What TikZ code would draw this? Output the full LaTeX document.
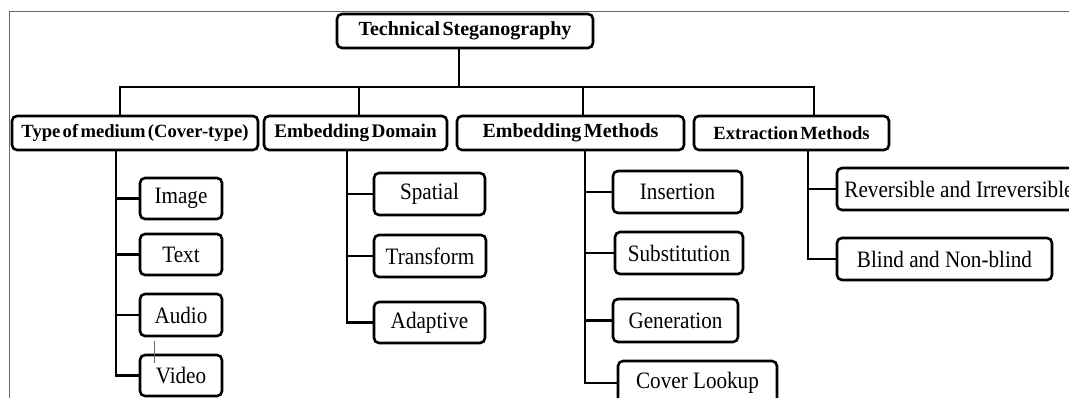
\documentclass[tikz,border=0pt]{standalone}
\usepackage{fontspec}
\setmainfont{Liberation Serif}
\newfontfamily\childfont[FakeStretch=0.9]{Liberation Serif}
\newfontfamily\headfont[WordSpace=0.5]{Liberation Serif}
\begin{document}
\begin{tikzpicture}[x=1pt,y=-1pt,
  box/.style={draw=black, line width=2.6pt, rounded corners=5pt, inner sep=0pt, align=center, fill=white},
  head/.style={box, minimum height=34pt},
  leaf/.style={box, font=\childfont\fontsize{23.5}{26}\selectfont},
  link/.style={line width=2.8pt, line cap=rect},
  frame/.style={draw=black!60, line width=1pt}]
\useasboundingbox (0,0) rectangle (1069,398);
\clip (0,0) rectangle (1069,398);
\draw[frame] (9,398) -- (9,12) -- (1069,12);

% root
\node[head, minimum width=256pt, font=\headfont\bfseries\fontsize{20}{22}\selectfont] (root) at (465,31) {Technical Steganography};
\coordinate (bus) at (459,87);

% level 1
\node[head, minimum width=246pt, font=\headfont\bfseries\fontsize{18.6}{21}\selectfont] (T1) at (135,133) {Type of medium (Cover-type)};
\node[head, minimum width=183pt, font=\headfont\bfseries\fontsize{19.2}{21}\selectfont] (T2) at (355.5,133) {Embedding Domain};
\node[head, minimum width=227pt, font=\headfont\bfseries\fontsize{20}{22}\selectfont] (T3) at (570.5,133) {Embedding Methods};
\node[head, minimum width=195pt, font=\headfont\bfseries\fontsize{18.6}{21}\selectfont] (T4) at (791.5,133) {Extraction Methods};

% cover types
\node[leaf, minimum width=82pt, minimum height=41pt] (img) at (181,198.5) {Image};
\node[leaf, minimum width=82pt, minimum height=41pt] (txt) at (181,254.5) {Text};
\node[leaf, minimum width=82pt, minimum height=42pt] (aud) at (181,315) {Audio};
\node[leaf, minimum width=82pt, minimum height=41pt] (vid) at (181,375.5) {Video};

% domains
\node[leaf, minimum width=111pt, minimum height=42pt] (spa) at (429.5,194) {Spatial};
\node[leaf, minimum width=112pt, minimum height=42pt] (tra) at (430,256) {Transform};
\node[leaf, minimum width=111pt, minimum height=41pt] (ada) at (429.5,322.5) {Adaptive};

% methods
\node[leaf, minimum width=129pt, minimum height=42pt] (ins) at (677.5,192) {Insertion};
\node[leaf, minimum width=128pt, minimum height=42pt] (sub) at (679,253) {Substitution};
\node[leaf, minimum width=125pt, minimum height=43pt] (gen) at (675.5,320.5) {Generation};
\node[leaf, minimum width=159pt, minimum height=44pt] (cov) at (697.5,383) {Cover Lookup};

% extraction
\node[leaf, minimum width=244pt, minimum height=42pt] (rev) at (959,189) {Reversible and Irreversible};
\node[leaf, minimum width=215pt, minimum height=42pt] (bli) at (944.5,259) {Blind and Non-blind};

% top connectors
\draw[link] ([xshift=-6pt]root.south) -- (bus);
\draw[link] ([xshift=-15pt]T1.north) |- (bus);
\draw[link] ([xshift=3.5pt]T2.north) |- (bus);
\draw[link] ([xshift=12.5pt]T3.north) |- (bus);
\draw[link] ([xshift=22.5pt]T4.north) |- (bus);

% trunks
\foreach \c in {img,txt,aud,vid} \draw[link] ([xshift=-19pt]T1.south) |- (\c.west);
\foreach \c in {spa,tra,ada} \draw[link] ([xshift=-8.5pt]T2.south) |- (\c.west);
\foreach \c in {ins,sub,gen,cov} \draw[link] ([xshift=14.5pt]T3.south) |- (\c.west);
\foreach \c in {rev,bli} \draw[link] ([xshift=16.5pt]T4.south) |- (\c.west);

% stray mark
\draw[black!60, line width=0.8pt] (154,341) -- (154,363);
\end{tikzpicture}
\end{document}
